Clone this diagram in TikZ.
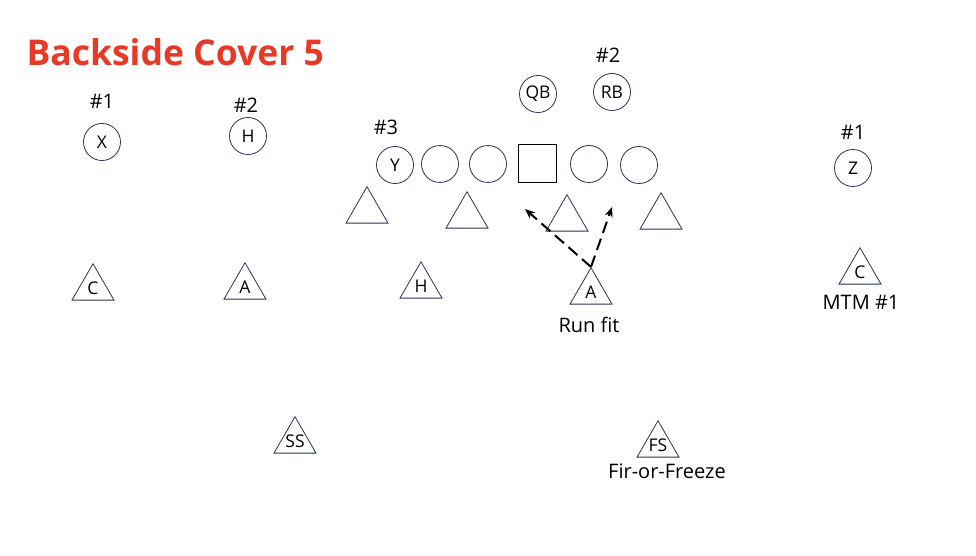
\documentclass[tikz,border=0pt]{standalone}
\usepackage{fontspec}
\setmainfont{Open Sans}
\usetikzlibrary{shapes.geometric,arrows.meta}
\definecolor{navy}{RGB}{38,52,90}
\definecolor{titlered}{RGB}{232,56,38}
\tikzset{
  lab/.style={font=\fontsize{20}{22}\selectfont},
  capt/.style={font=\fontsize{35.5}{40}\selectfont\bfseries,text=titlered},
  offp/.style={draw=navy,circle,line width=0.8pt,minimum size=37pt,inner sep=0pt,font=\fontsize{17.5}{19}\selectfont},
  ctr/.style={draw=black,rectangle,line width=0.8pt,minimum size=38pt,inner sep=0pt},
  defp/.style={draw=navy,regular polygon,regular polygon sides=3,line width=0.8pt,minimum size=48.5pt,inner sep=0pt},
  every label/.style={font=\fontsize{17.5}{19}\selectfont,inner sep=0pt},
  fit/.style={draw=black,line width=2pt,dash pattern=on 12pt off 6pt,-{Stealth[length=10pt,width=8pt]}},
}
\begin{document}
\begin{tikzpicture}[x=1pt,y=-1pt]
  \useasboundingbox (0,0) rectangle (976,556);
  \node[capt,anchor=west] (title) at (23,52) {Backside Cover 5};
  % offense
  \node[offp] (x) at (102,142) {X};
  \node[offp] (h) at (248,136) {H};
  \node[offp] (y) at (395,165) {Y};
  \node[offp] (lg) at (440,164) {};
  \node[offp] (lt) at (488,164) {};
  \node[ctr] (ce) at (537,163) {};
  \node[offp] (rg) at (589,164) {};
  \node[offp] (rt) at (639,165) {};
  \node[offp] (qb) at (538,94) {QB};
  \node[offp] (rb) at (612,92) {RB};
  \node[offp] (z) at (853,168) {Z};
  \node[lab] (nx) at (102,101) {\#1};
  \node[lab] (nh) at (246,105) {\#2};
  \node[lab] (ny) at (386,127) {\#3};
  \node[lab] (nrb) at (608,55) {\#2};
  \node[lab] (nz) at (853,132) {\#1};
  % defense
  \node[defp] (de1) at (367,211) {};
  \node[defp] (dt1) at (467,216) {};
  \node[defp] (dt2) at (567,219) {};
  \node[defp] (de2) at (661,217) {};
  \node[defp,label={center:C}] (cl) at (93,288) {};
  \node[defp,label={center:A}] (al) at (245,287) {};
  \node[defp,label={center:H}] (hk) at (421,286) {};
  \node[defp,label={center:A}] (ar) at (591,292) {};
  \node[defp,label={center:C}] (cr) at (860,272) {};
  \node[defp,label={center:SS}] (ss) at (295,441) {};
  \node[defp,label={center:FS}] (fs) at (658,445) {};
  \node[lab] (runfit) at (589,325) {Run fit};
  \node[lab] (mtm) at (861,302) {MTM \#1};
  \node[lab] (fof) at (667,471) {Fir-or-Freeze};
  % run fit
  \coordinate (gapl) at (525,209);
  \coordinate (gapr) at (612,207);
  \draw[fit] (ar.corner 1) -- (gapl);
  \draw[fit] (ar.corner 1) -- (gapr);
\end{tikzpicture}
\end{document}
